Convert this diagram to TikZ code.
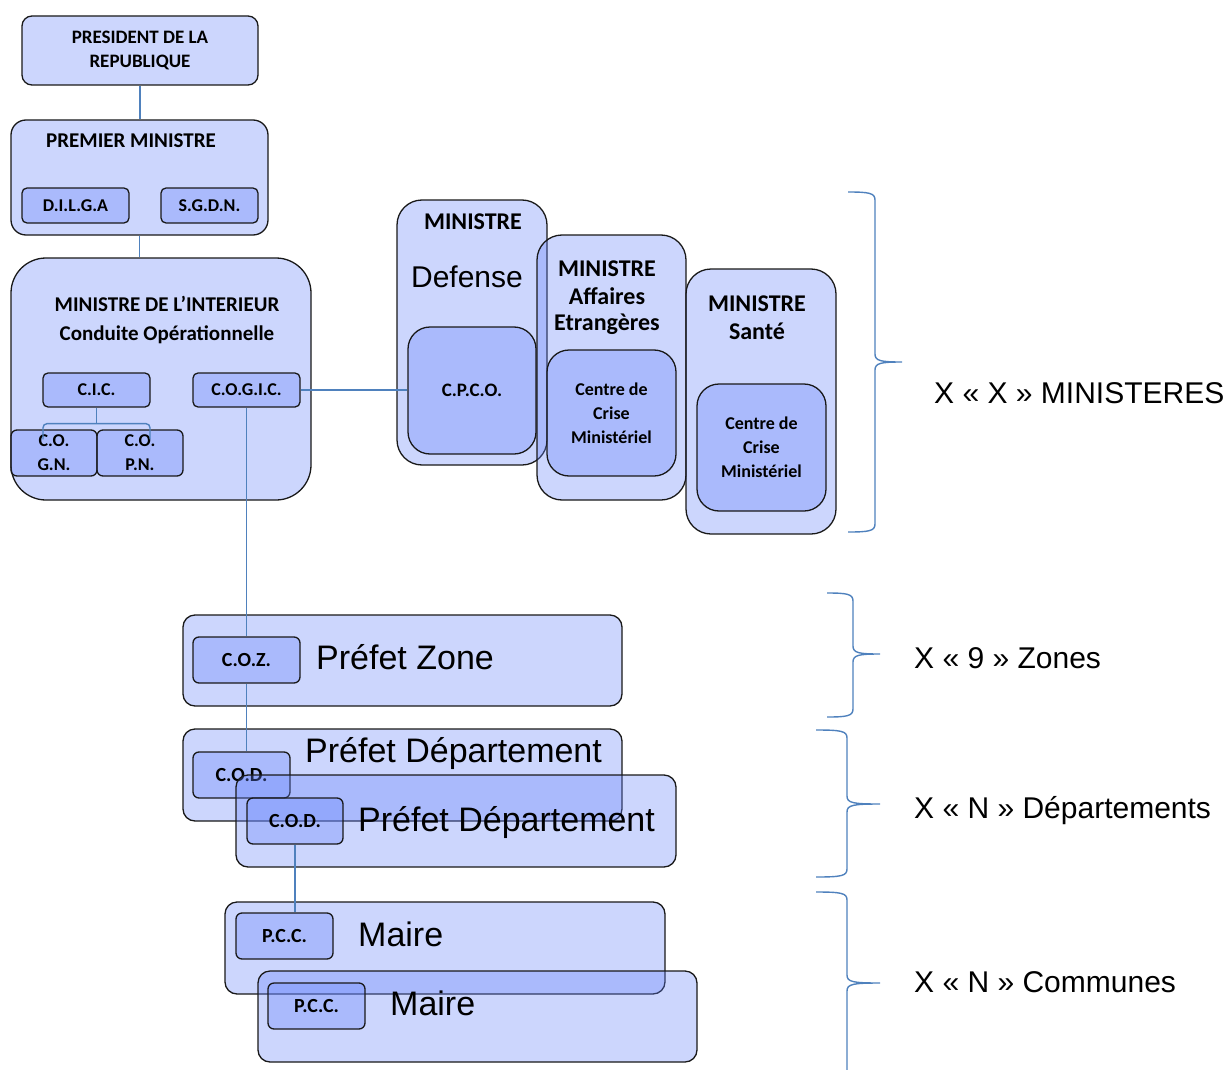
\documentclass[tikz,border=0pt]{standalone}
\usepackage{fontspec}
\setmainfont{Carlito}
\newfontfamily\arialfont{Liberation Sans}
\usepackage{tikz}
\usetikzlibrary{positioning,calc}
\definecolor{boxblue}{RGB}{100,130,250}
\definecolor{edgegray}{RGB}{25,25,25}
\definecolor{linkblue}{RGB}{79,129,189}

\begin{document}
\begin{tikzpicture}[x=1pt, y=-1pt,
  box/.style={draw=edgegray, line width=1.3pt, fill=boxblue, fill opacity=0.33, text opacity=1, inner sep=0pt, align=center, font=\bfseries\fontsize{18}{24}\selectfont},
  sz/.style 2 args={minimum width=#1pt, minimum height=#2pt},
  ttl/.style={font=\bfseries\fontsize{21}{24}\selectfont, inner sep=0pt, anchor=base},
  mttl/.style={font=\bfseries\fontsize{24}{26}\selectfont, inner sep=0pt, anchor=base},
  big/.style={font=\arialfont\fontsize{34}{38}\selectfont, inner sep=0pt, anchor=base west},
  note/.style={font=\arialfont\fontsize{30}{36}\selectfont, inner sep=0pt, anchor=base west},
  link/.style={draw=linkblue, line width=1.4pt},
  brc/.style={draw=linkblue, line width=1.4pt}
]
\useasboundingbox (0,0) rectangle (1231,1070);

\node[box, sz={236}{69}, rounded corners=10pt, font=\bfseries\fontsize{19}{24}\selectfont] (pres) at (140,50.5) {PRESIDENT DE LA\\REPUBLIQUE};
\node[box, sz={257}{115}, rounded corners=15pt] (pm) at (139.5,177.5) {};
\node[ttl] (pmtxt) at (131,147) {PREMIER MINISTRE};
\node[box, sz={107}{35}, rounded corners=5pt] (dilga) at (75.5,205.5) {D.I.L.G.A};
\node[box, sz={97}{35}, rounded corners=5pt] (sgdn) at (209.5,205.5) {S.G.D.N.};

\node[box, sz={300}{242}, rounded corners=35pt] (int) at (161,379) {};
\node[ttl] (inttxt) at (167,311) {MINISTRE DE L’INTERIEUR};
\node[ttl] (conduite) at (167,340) {Conduite Opérationnelle};
\node[box, sz={107}{34}, rounded corners=5pt] (cic) at (96.5,390) {C.I.C.};
\node[box, sz={107}{34}, rounded corners=5pt] (cogic) at (246.5,390) {C.O.G.I.C.};
\node[box, sz={86}{46}, rounded corners=6pt] (cogn) at (54,453) {C.O.\\G.N.};
\node[box, sz={86}{46}, rounded corners=6pt] (copn) at (140,453) {C.O.\\P.N.};

\node[box, sz={150}{265}, rounded corners=25pt] (def) at (472,332.5) {};
\node[mttl] (deftxt) at (473,229) {MINISTRE};
\node[big, anchor=base, font=\arialfont\fontsize{30}{36}\selectfont] (defname) at (467,287) {Defense};
\node[box, sz={128}{127}, rounded corners=22pt, font=\bfseries\fontsize{19}{24}\selectfont] (cpco) at (472,390.5) {C.P.C.O.};
\node[box, sz={149}{265}, rounded corners=25pt] (ae) at (611.5,367.5) {};
\node[mttl] (aetxt) at (607,276) {MINISTRE};
\node[mttl] (aename) at (607,304) {Affaires};
\node[mttl] (aename2) at (607,330) {Etrangères};
\node[box, sz={129}{126}, rounded corners=22pt] (ccmae) at (611.5,413) {Centre de\\Crise\\Ministériel};
\node[box, sz={150}{265}, rounded corners=25pt] (sante) at (761,401.5) {};
\node[mttl] (santetxt) at (757,311) {MINISTRE};
\node[mttl] (santename) at (757,339) {Santé};
\node[box, sz={129}{127}, rounded corners=22pt] (ccmsante) at (761.5,447.5) {Centre de\\Crise\\Ministériel};

\node[box, sz={439}{91}, rounded corners=12pt] (zone) at (402.5,660.5) {};
\node[box, sz={107}{46}, rounded corners=6pt, font=\bfseries\fontsize{20}{24}\selectfont] (coz) at (246.5,660) {C.O.Z.};
\node[big] (zonetxt) at (316,669) {Préfet Zone};

\node[box, sz={439}{92}, rounded corners=12pt] (dep1) at (402.5,775) {};
\node[box, sz={97}{46}, rounded corners=6pt, font=\bfseries\fontsize{20}{24}\selectfont] (cod1) at (241.5,775) {C.O.D.};
\node[big] (dep1txt) at (305,762) {Préfet Département};
\node[box, sz={440}{92}, rounded corners=12pt] (dep2) at (456,821) {};
\node[box, sz={96}{46}, rounded corners=6pt, font=\bfseries\fontsize{20}{24}\selectfont] (cod2) at (295,821) {C.O.D.};
\node[big] (dep2txt) at (358,831) {Préfet Département};

\node[box, sz={440}{92}, rounded corners=12pt] (maire1) at (445,948) {};
\node[box, sz={97}{46}, rounded corners=6pt, font=\bfseries\fontsize{20}{24}\selectfont] (pcc1) at (284.5,936) {P.C.C.};
\node[big] (maire1txt) at (358,946) {Maire};
\node[box, sz={439}{91}, rounded corners=12pt] (maire2) at (477.5,1016.5) {};
\node[box, sz={97}{46}, rounded corners=6pt, font=\bfseries\fontsize{20}{24}\selectfont] (pcc2) at (316.5,1006) {P.C.C.};
\node[big] (maire2txt) at (390,1015) {Maire};

\draw[link] (pres.south) -- (pres.south |- pm.north);
\draw[link] (pm.south) -- (pm.south |- int.north);
\coordinate (fork) at ($(cic.south)+(0,16)$);
\draw[link] (cic.south) -- (fork);
\draw[link, rounded corners=4pt] ($(cogn.north)+(-11,10)$) |- (fork) -| ($(copn.north)+(10,10)$);
\draw[link] (cogic.east) -- (cogic.east -| cpco.west);
\draw[link] (cogic.south) -- (coz.north);
\draw[link] (coz.south) -- (coz.south |- cod1.north);
\draw[link] (cod2.south) -- (cod2.south |- pcc1.north);

\foreach \yt/\yb/\ym/\xl/\xs/\xt in {192/532/362/848/875/902, 593/717/654/827/853/880, 730/877/804/816/847/880}
  \draw[brc] (\xl,\yt) .. controls (\xs-6,\yt) and (\xs,\yt+1) .. (\xs,\yt+8) -- (\xs,\ym-8) .. controls (\xs,\ym-1) and (\xs+6,\ym) .. (\xt,\ym) .. controls (\xs+6,\ym) and (\xs,\ym+1) .. (\xs,\ym+8) -- (\xs,\yb-8) .. controls (\xs,\yb-1) and (\xs-6,\yb) .. (\xl,\yb);
\draw[brc] (816,892) .. controls (841,892) and (847,893) .. (847,900) -- (847,975) .. controls (847,982) and (853,983) .. (880,983) .. controls (853,983) and (847,984) .. (847,991) -- (847,1070);

\node[note] (minlbl) at (934,403) {X « X » MINISTERES};
\node[note] (zonelbl) at (914,668) {X « 9 » Zones};
\node[note] (deplbl) at (914,818) {X « N » Départements};
\node[note] (comlbl) at (914,992) {X « N » Communes};
\end{tikzpicture}
\end{document}
